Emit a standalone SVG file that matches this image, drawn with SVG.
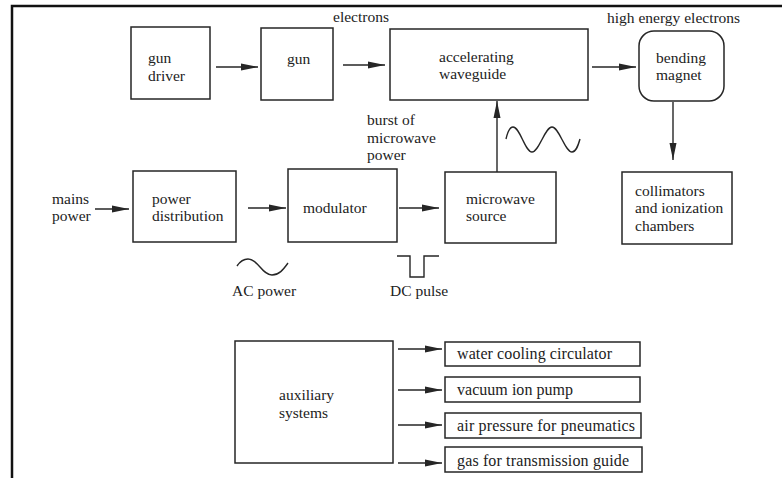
<svg xmlns="http://www.w3.org/2000/svg" width="782" height="478" viewBox="0 0 782 478">
<style>
.box{fill:none;stroke:#262626;stroke-width:1.5}
.ln{fill:none;stroke:#262626;stroke-width:1.4}
.ar{fill:none;stroke:#262626;stroke-width:1.4;marker-end:url(#ah)}
text{font-family:"Liberation Serif","Times New Roman",serif;font-size:15.5px;fill:#222}
.aux{font-size:16px}
.frame{stroke:#111;stroke-width:2.5;fill:none}
</style>
<defs>
<marker id="ah" markerUnits="userSpaceOnUse" markerWidth="17" markerHeight="8" refX="17" refY="4" orient="auto">
<path d="M0,0.5 L17,4 L0,7.5 z" fill="#262626"/>
</marker>
</defs>
<rect width="782" height="478" fill="#fff"/>
<path class="frame" d="M12,478 V6 H782"/>

<g id="gun-driver"><rect class="box" x="131" y="27" width="79" height="72"/><text x="148" y="63">gun</text><text x="148" y="80.5">driver</text></g>
<g id="gun"><rect class="box" x="261" y="28" width="72" height="72"/><text x="287" y="64">gun</text></g>
<g id="electrons-label"><text x="333" y="22">electrons</text></g>
<g id="accelerating-waveguide"><rect class="box" x="390" y="29" width="198" height="71"/><text x="439" y="61.5">accelerating</text><text x="439" y="79">waveguide</text></g>
<g id="high-energy-label"><text x="607" y="23">high energy electrons</text></g>
<g id="bending-magnet"><rect class="box" x="639" y="31" width="85" height="70" rx="15" ry="15"/><text x="656" y="62.5">bending</text><text x="656" y="80">magnet</text></g>
<g id="burst-label"><text x="367" y="125">burst of</text><text x="367" y="142.5">microwave</text><text x="367" y="160">power</text></g>
<g id="mains-power"><text x="52" y="203.5">mains</text><text x="52" y="221">power</text></g>
<g id="power-distribution"><rect class="box" x="133" y="171" width="103" height="71"/><text x="152" y="203.5">power</text><text x="152" y="221">distribution</text></g>
<g id="modulator"><rect class="box" x="288" y="169" width="109" height="73"/><text x="303" y="213">modulator</text></g>
<g id="microwave-source"><rect class="box" x="445" y="172" width="111" height="71"/><text x="466" y="203.5">microwave</text><text x="466" y="221">source</text></g>
<g id="collimators"><rect class="box" x="622" y="172" width="110" height="72"/><text x="635" y="195.5">collimators</text><text x="635" y="213">and ionization</text><text x="635" y="230.5">chambers</text></g>
<g id="ac-power"><path class="ln" d="M237,266 C241,260 244,259 248,259 C258,259 262,275 272,275 C279,275 283,270 288,263"/><text x="232" y="296">AC power</text></g>
<g id="dc-pulse"><path class="ln" d="M397,256 H410 V277 H424 V256 H439"/><text x="390" y="296">DC pulse</text></g>
<g id="microwave-wave"><path class="ln" d="M506,139 C508,130 510,127 513,127 C520,127 525,152 532,152 C539,152 545,127 552,127 C559,127 565,152 572,152 C576,152 578,146 580,139"/></g>
<g id="auxiliary-systems"><rect class="box" x="235" y="341" width="158" height="122"/><text x="279" y="400">auxiliary</text><text x="279" y="417.5">systems</text></g>
<g id="water-cooling"><rect class="box" x="445" y="342" width="195" height="24"/><text class="aux" x="457" y="358.5" textLength="155" lengthAdjust="spacing">water cooling circulator</text></g>
<g id="vacuum-pump"><rect class="box" x="445" y="377" width="195" height="25"/><text class="aux" x="457" y="394.5" textLength="116" lengthAdjust="spacing">vacuum ion pump</text></g>
<g id="air-pressure"><rect class="box" x="445" y="413" width="196" height="25"/><text class="aux" x="457" y="430.5" textLength="178" lengthAdjust="spacing">air pressure for pneumatics</text></g>
<g id="gas-guide"><rect class="box" x="445" y="447" width="197" height="25"/><text class="aux" x="457" y="465.5" textLength="172" lengthAdjust="spacing">gas for transmission guide</text></g>

<g id="connectors">
<path class="ar" d="M216,67 H258"/>
<path class="ar" d="M343,65 H385"/>
<path class="ar" d="M592,67 H636"/>
<path class="ar" d="M673,102 V160"/>
<path class="ar" d="M497,172 V101"/>
<path class="ar" d="M95,209 H129"/>
<path class="ar" d="M248,208 H286"/>
<path class="ar" d="M399,208 H439"/>
<path class="ar" d="M398,349 H442"/>
<path class="ar" d="M398,390 H442"/>
<path class="ar" d="M398,425 H442"/>
<path class="ar" d="M398,463 H442"/>
</g>
</svg>
